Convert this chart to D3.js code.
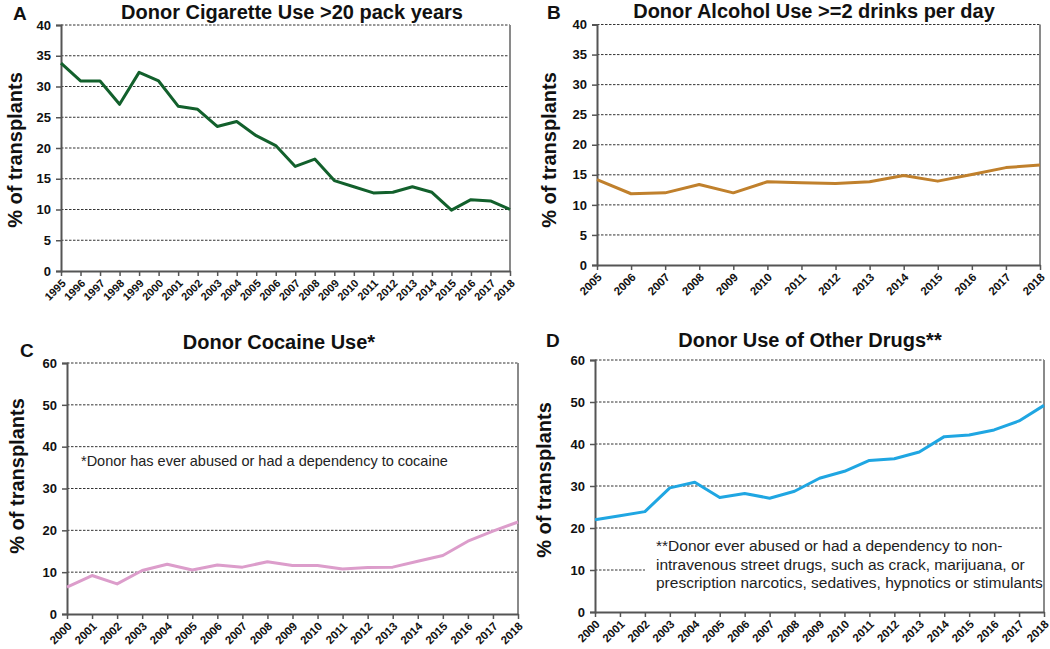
<!DOCTYPE html>
<html>
<head>
<meta charset="utf-8">
<script src="https://cdn.jsdelivr.net/npm/d3@7"></script>
<style>
  body { margin: 0; background: #fff; }
  text { font-family: "Liberation Sans", Arial, sans-serif; }
</style>
</head>
<body>
<svg id="chart" width="1050" height="649"></svg>
<script>
// years (categories) for each panel
var cigYears = ["1995","1996","1997","1998","1999","2000","2001","2002","2003","2004","2005","2006",
                "2007","2008","2009","2010","2011","2012","2013","2014","2015","2016","2017","2018"];
var alcYears = ["2005","2006","2007","2008","2009","2010","2011","2012","2013","2014","2015","2016","2017","2018"];
var drugYears = ["2000","2001","2002","2003","2004","2005","2006","2007","2008","2009",
                 "2010","2011","2012","2013","2014","2015","2016","2017","2018"];

// % of transplants
var cigValues = [33.8, 30.9, 30.9, 27.1, 32.3, 30.9, 26.8, 26.3, 23.5, 24.3, 22.0, 20.4,
                 17.0, 18.2, 14.7, 13.7, 12.7, 12.8, 13.7, 12.8, 9.9, 11.6, 11.4, 10.0];
var alcValues = [14.2, 11.85, 12.0, 13.4, 12.0, 13.85, 13.7, 13.55, 13.85, 14.9, 13.95, 15.05, 16.2, 16.65];
var cocaineValues = [6.45, 9.2, 7.2, 10.4, 11.9, 10.5, 11.7, 11.2, 12.5, 11.6,
                     11.6, 10.75, 11.1, 11.2, 12.6, 14.0, 17.4, 19.8, 22.0];
var otherValues = [21.95, 22.9, 23.9, 29.55, 30.9, 27.25, 28.2, 27.1, 28.75, 31.85,
                   33.5, 36.1, 36.5, 38.1, 41.75, 42.15, 43.35, 45.5, 49.2];

var yTicks40 = [0, 5, 10, 15, 20, 25, 30, 35, 40];
var yTicks60 = [0, 10, 20, 30, 40, 50, 60];

var svg = d3.select("#chart");

function drawPanel(p) {
    var g = svg.append("g");

    var x = d3.scalePoint().domain(p.years).range([p.left, p.right]);
    var y = d3.scaleLinear().domain([0, p.max]).range([p.bottom, p.top]);

    // dashed grid
    g.append("g").selectAll("line")
        .data(p.ticks.filter(function (d) { return d > 0; }))
        .join("line")
        .attr("x1", p.left).attr("x2", p.right)
        .attr("y1", function (d) { return y(d); })
        .attr("y2", function (d) { return y(d); })
        .attr("stroke", "#333")
        .attr("stroke-width", 1)
        .attr("stroke-dasharray", "2.5,1.5");

    // right border
    g.append("line")
        .attr("x1", p.right).attr("x2", p.right)
        .attr("y1", p.top).attr("y2", p.bottom)
        .attr("stroke", "#8a8a8a").attr("stroke-width", 2);

    // note box (panel D covers the grid)
    if (p.noteBox) {
        g.append("rect")
            .attr("x", p.noteBox[0]).attr("y", p.noteBox[1])
            .attr("width", p.noteBox[2]).attr("height", p.noteBox[3])
            .attr("fill", "#fff");
    }

    // y axis
    var yAxis = g.append("g")
        .attr("transform", "translate(" + p.left + ",0)")
        .call(d3.axisLeft(y).tickValues(p.ticks).tickSize(5).tickPadding(5));
    yAxis.select(".domain").attr("stroke", "#555").attr("stroke-width", 2);
    yAxis.selectAll(".tick line").attr("stroke", "#555").attr("stroke-width", 1.5);
    yAxis.selectAll("text")
        .attr("font-family", "Liberation Sans, Arial, sans-serif")
        .attr("font-size", 13).attr("font-weight", "bold").attr("fill", "#111");

    // x axis
    var xAxis = g.append("g")
        .attr("transform", "translate(0," + p.bottom + ")")
        .call(d3.axisBottom(x).tickSize(5).tickSizeOuter(0));
    xAxis.select(".domain").attr("stroke", "#555").attr("stroke-width", 2);
    xAxis.selectAll(".tick line").attr("stroke", "#555").attr("stroke-width", 1.5);
    xAxis.selectAll("text")
        .attr("font-family", "Liberation Sans, Arial, sans-serif")
        .attr("font-size", p.xFont).attr("font-weight", "bold").attr("fill", "#111")
        .attr("text-anchor", "end")
        .attr("x", 0).attr("y", 0).attr("dy", 0)
        .attr("transform", "translate(5,13) rotate(-45)");

    // data line
    var line = d3.line()
        .x(function (d, i) { return x(p.years[i]); })
        .y(function (d) { return y(d); });
    g.append("path")
        .datum(p.values)
        .attr("d", line)
        .attr("fill", "none")
        .attr("stroke", p.color)
        .attr("stroke-width", 3)
        .attr("stroke-linejoin", "round");

    // title and panel letter
    g.append("text")
        .attr("x", p.titleX).attr("y", p.titleY)
        .attr("text-anchor", "middle")
        .attr("font-size", 20).attr("font-weight", "bold").attr("fill", "#111")
        .text(p.title);
    g.append("text")
        .attr("x", p.letterX).attr("y", p.letterY)
        .attr("font-size", 19).attr("font-weight", "bold").attr("fill", "#111")
        .text(p.letter);

    // y label
    g.append("text")
        .attr("transform", "translate(" + p.ylabX + "," + p.ylabY + ") rotate(-90)")
        .attr("text-anchor", "middle")
        .attr("dy", "0.35em")
        .attr("font-size", 20).attr("font-weight", "bold").attr("fill", "#111")
        .text("% of transplants");

    // footnote
    if (p.note) {
        g.append("g").selectAll("text")
            .data(p.note)
            .join("text")
            .attr("x", p.noteX)
            .attr("y", function (d, i) { return p.noteY + i * 18.5; })
            .attr("font-size", p.noteFont).attr("fill", "#222")
            .text(function (d) { return d; });
    }
}

drawPanel({
    letter: "A", letterX: 13, letterY: 20,
    title: "Donor Cigarette Use >20 pack years", titleX: 292, titleY: 19,
    years: cigYears, values: cigValues, color: "#12602c",
    left: 61, right: 510, top: 25, bottom: 271, max: 40, ticks: yTicks40,
    ylabX: 15, ylabY: 150, xFont: 11
});

drawPanel({
    letter: "B", letterX: 547, letterY: 19,
    title: "Donor Alcohol Use >=2 drinks per day", titleX: 814, titleY: 18,
    years: alcYears, values: alcValues, color: "#c0802c",
    left: 597, right: 1040, top: 24.5, bottom: 265, max: 40, ticks: yTicks40,
    ylabX: 549, ylabY: 150, xFont: 11.5
});

drawPanel({
    letter: "C", letterX: 20, letterY: 357,
    title: "Donor Cocaine Use*", titleX: 279, titleY: 349,
    years: drugYears, values: cocaineValues, color: "#dc9dcb",
    left: 67, right: 518, top: 363, bottom: 614, max: 60, ticks: yTicks60,
    ylabX: 17, ylabY: 476, xFont: 11.5,
    note: ["*Donor has ever abused or had a dependency to cocaine"], noteX: 81, noteY: 466, noteFont: 14.5
});

drawPanel({
    letter: "D", letterX: 546, letterY: 347,
    title: "Donor Use of Other Drugs**", titleX: 810, titleY: 347,
    years: drugYears, values: otherValues, color: "#1fa6e2",
    left: 595, right: 1044, top: 360, bottom: 612, max: 60, ticks: yTicks60,
    ylabX: 544, ylabY: 480, xFont: 11.5,
    note: ["**Donor ever abused or had a dependency to non-",
           "intravenous street drugs, such as crack, marijuana, or",
           "prescription narcotics, sedatives, hypnotics or stimulants"],
    noteX: 656, noteY: 551, noteFont: 15.5, noteBox: [645, 533, 397, 70]
});
</script>
</body>
</html>
